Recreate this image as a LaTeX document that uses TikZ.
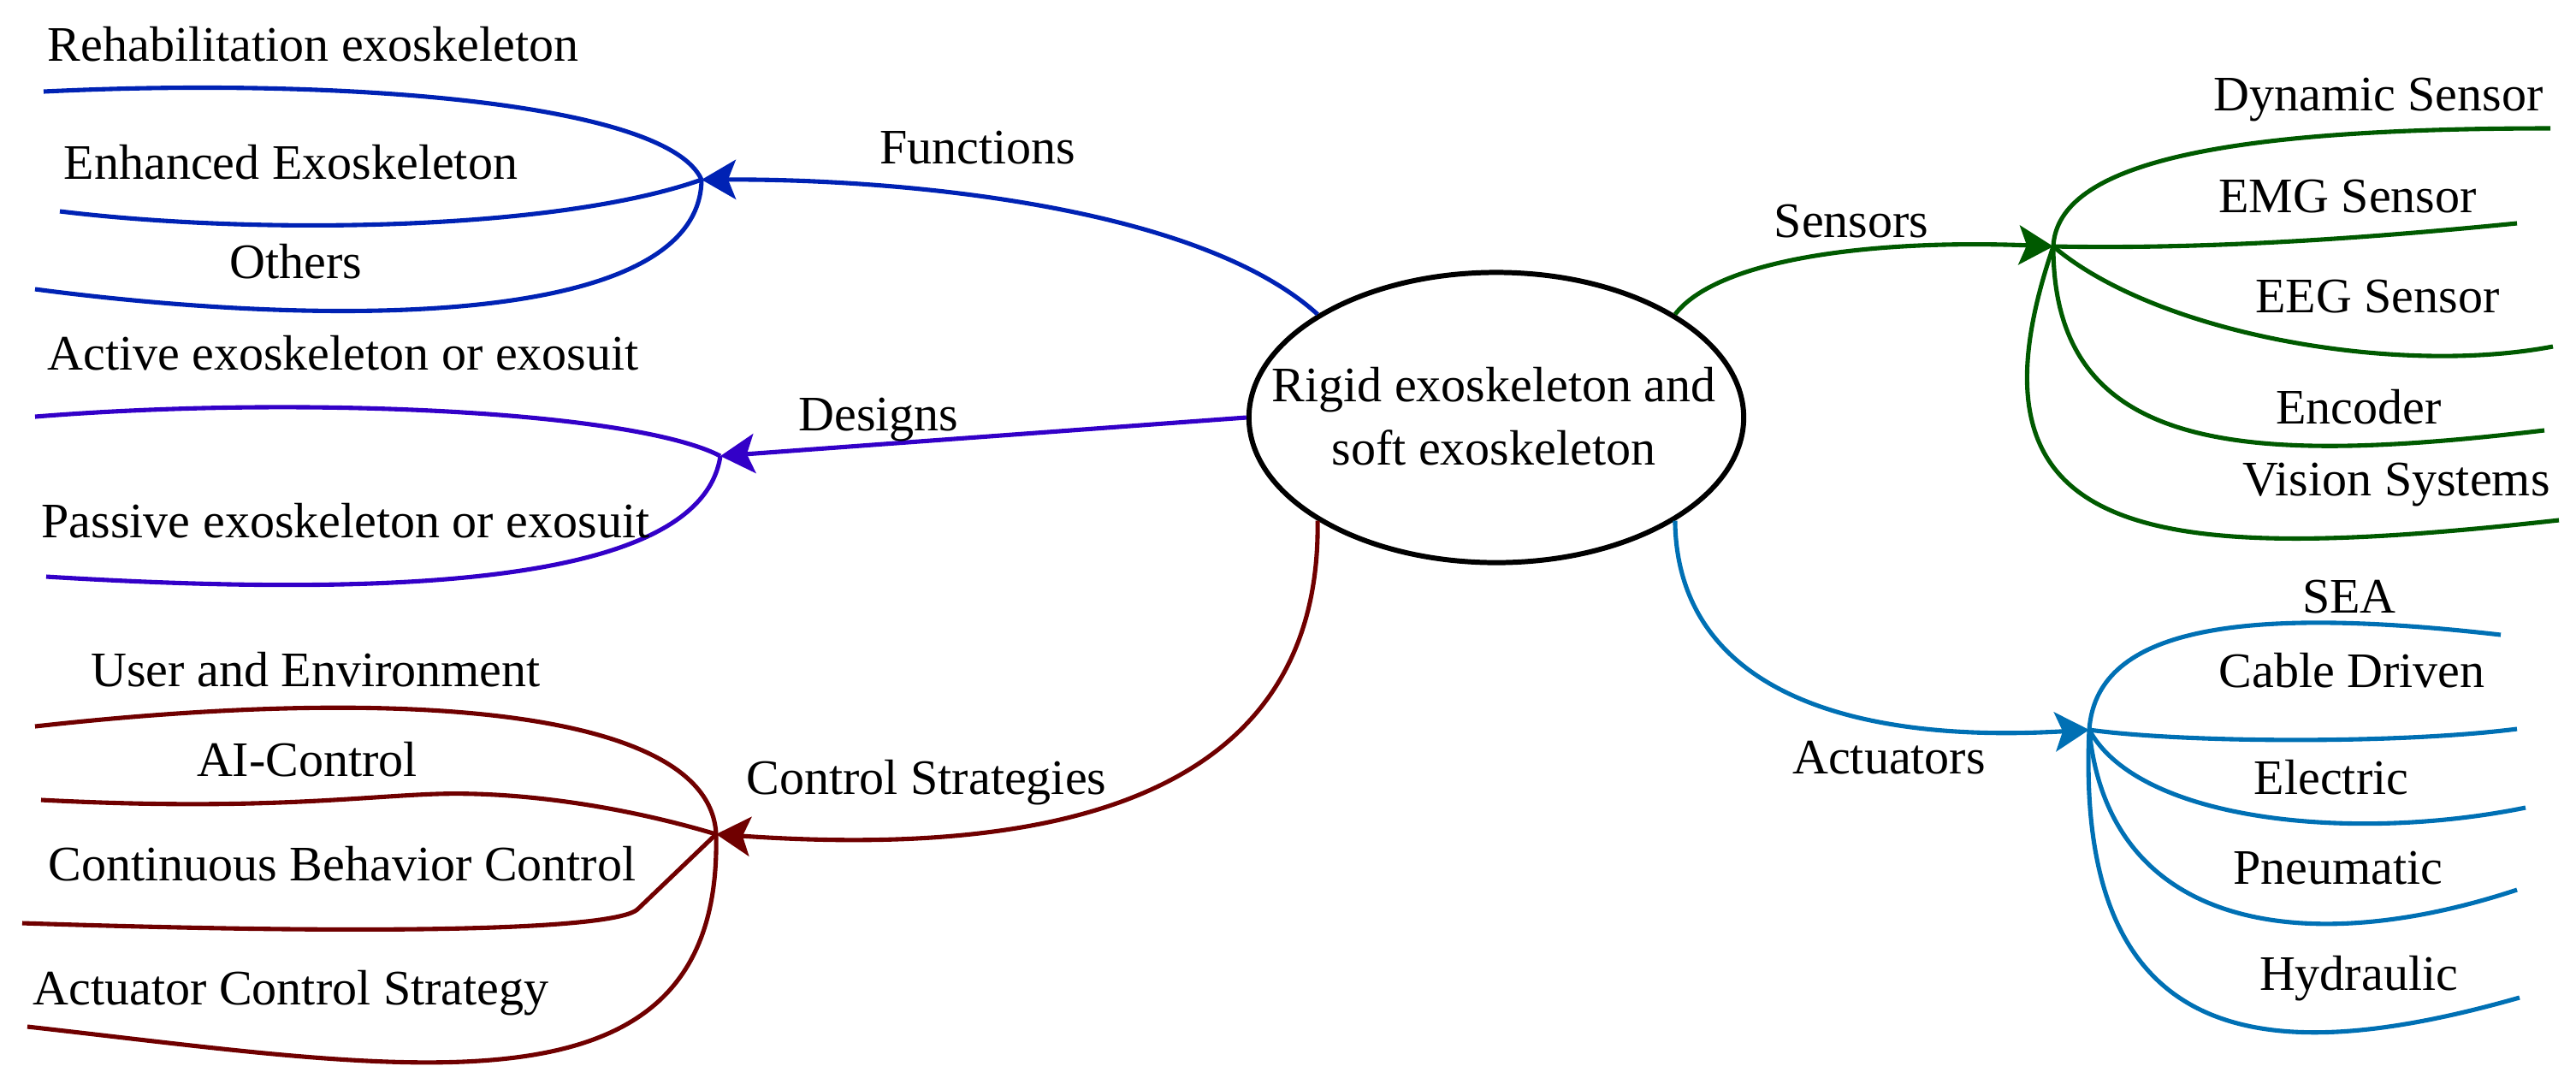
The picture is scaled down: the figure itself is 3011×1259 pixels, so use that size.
\documentclass[tikz,border=0pt]{standalone}
\usepackage{fontspec}
\setmainfont{Liberation Serif}
\usetikzlibrary{arrows.meta,shapes.geometric}
\definecolor{funcC}{HTML}{0022B4}
\definecolor{desC}{HTML}{3300C8}
\definecolor{ctlC}{HTML}{700000}
\definecolor{senC}{HTML}{005A00}
\definecolor{actC}{HTML}{0070B4}
\begin{document}
\begin{tikzpicture}[x=0.01cm, y=-0.01cm,
  lbl/.style={font=\fontsize{16.5}{20.8}\selectfont, inner sep=0pt, anchor=base},
  conn/.style={line width=1.45pt, -{Stealth[length=0.4cm,width=0.46cm,inset=0.09cm]}},
  leaf/.style={line width=1.45pt}]
\useasboundingbox (0,0) rectangle (3011,1259);

% central node
\node[draw, ellipse, line width=1.7pt, minimum width=5.78cm, minimum height=3.39cm, inner sep=0pt] (c) at (1749,488) {};
\node[lbl, align=center] (ct) at (1746,543) {Rigid exoskeleton and\\soft exoskeleton};

% hubs
\coordinate (hF) at (820,210);
\coordinate (hD) at (842,533);
\coordinate (hC) at (837,975);
\coordinate (hS) at (2400,288);
\coordinate (hA) at (2442,853);

% leaf ends
\coordinate (eF1) at (51,107);
\coordinate (eF2) at (70,247);
\coordinate (eF3) at (41,338);
\coordinate (eD1) at (41,487);
\coordinate (eD2) at (54,674);
\coordinate (eC1) at (41,849);
\coordinate (eC2) at (48,935);
\coordinate (eC3) at (26,1079);
\coordinate (eC4) at (32,1200);
\coordinate (eS1) at (2981,150);
\coordinate (eS2) at (2942,261);
\coordinate (eS3) at (2984,405);
\coordinate (eS4) at (2974,503);
\coordinate (eS5) at (2991,608);
\coordinate (eA1) at (2923,742);
\coordinate (eA2) at (2942,852);
\coordinate (eA3) at (2952,944);
\coordinate (eA4) at (2942,1040);
\coordinate (eA5) at (2945,1166);

% leaves: functions
\draw[leaf, funcC] (hF) .. controls (780,120) and (400,90) .. (eF1);
\draw[leaf, funcC] (hF) .. controls (650,270) and (300,275) .. (eF2);
\draw[leaf, funcC] (hF) .. controls (818,380) and (400,385) .. (eF3);
% designs
\draw[leaf, desC] (hD) .. controls (740,480) and (350,462) .. (eD1);
\draw[leaf, desC] (hD) .. controls (820,680) and (480,700) .. (eD2);
% control
\draw[leaf, ctlC] (hC) .. controls (830,830) and (480,800) .. (eC1);
\draw[leaf, ctlC] (hC) .. controls (720,940) and (600,925) .. (510,928) .. controls (420,931) and (300,948) .. (eC2);
\draw[leaf, ctlC] (hC) -- (745,1063) .. controls (722,1083) and (520,1095) .. (eC3);
\draw[leaf, ctlC] (hC) .. controls (845,1320) and (480,1250) .. (eC4);
% sensors
\draw[leaf, senC] (hS) .. controls (2405,190) and (2600,150) .. (eS1);
\draw[leaf, senC] (hS) .. controls (2600,292) and (2800,275) .. (eS2);
\draw[leaf, senC] (hS) .. controls (2520,390) and (2800,440) .. (eS3);
\draw[leaf, senC] (hS) .. controls (2400,530) and (2620,545) .. (eS4);
\draw[leaf, senC] (hS) .. controls (2280,640) and (2520,660) .. (eS5);
% actuators
\draw[leaf, actC] (hA) .. controls (2450,740) and (2600,705) .. (eA1);
\draw[leaf, actC] (hA) .. controls (2550,868) and (2800,870) .. (eA2);
\draw[leaf, actC] (hA) .. controls (2500,960) and (2750,985) .. (eA3);
\draw[leaf, actC] (hA) .. controls (2465,1090) and (2700,1120) .. (eA4);
\draw[leaf, actC] (hA) .. controls (2425,1230) and (2650,1250) .. (eA5);

% main connectors
\draw[conn, funcC] (c.150) .. controls (1400,240) and (1050,209) .. (hF);
\draw[conn, desC] (c.180) -- (hD);
\draw[conn, ctlC] (c.210) .. controls (1545,950) and (1200,1000) .. (hC);
\draw[conn, senC] (c.30) .. controls (2010,300) and (2200,280) .. (hS);
\draw[conn, actC] (c.330) .. controls (1960,800) and (2150,870) .. (hA);

% branch labels
\node[lbl] (lF) at (1143,191) {Functions};
\node[lbl] (lD) at (1027,503) {Designs};
\node[lbl] (lC) at (1083,928) {Control Strategies};
\node[lbl] (lS) at (2164,277) {Sensors};
\node[lbl] (lA) at (2208,904) {Actuators};

% leaf labels
\node[lbl] (tF1) at (366,71) {Rehabilitation exoskeleton};
\node[lbl] (tF2) at (340,209) {Enhanced Exoskeleton};
\node[lbl] (tF3) at (346,325) {Others};
\node[lbl] (tD1) at (401,432) {Active exoskeleton or exosuit};
\node[lbl] (tD2) at (404,628) {Passive exoskeleton or exosuit};
\node[lbl] (tC1) at (369,802) {User and Environment};
\node[lbl] (tC2) at (359,907) {AI-Control};
\node[lbl] (tC3) at (400,1029) {Continuous Behavior Control};
\node[lbl] (tC4) at (340,1174) {Actuator Control Strategy};
\node[lbl] (tS1) at (2780,129) {Dynamic Sensor};
\node[lbl] (tS2) at (2744,248) {EMG Sensor};
\node[lbl] (tS3) at (2779,365) {EEG Sensor};
\node[lbl] (tS4) at (2757,495) {Encoder};
\node[lbl] (tS5) at (2801,579) {Vision Systems};
\node[lbl] (tA1) at (2746,716) {SEA};
\node[lbl] (tA2) at (2749,803) {Cable Driven};
\node[lbl] (tA3) at (2725,928) {Electric};
\node[lbl] (tA4) at (2733,1033) {Pneumatic};
\node[lbl] (tA5) at (2757,1157) {Hydraulic};
\end{tikzpicture}
\end{document}
